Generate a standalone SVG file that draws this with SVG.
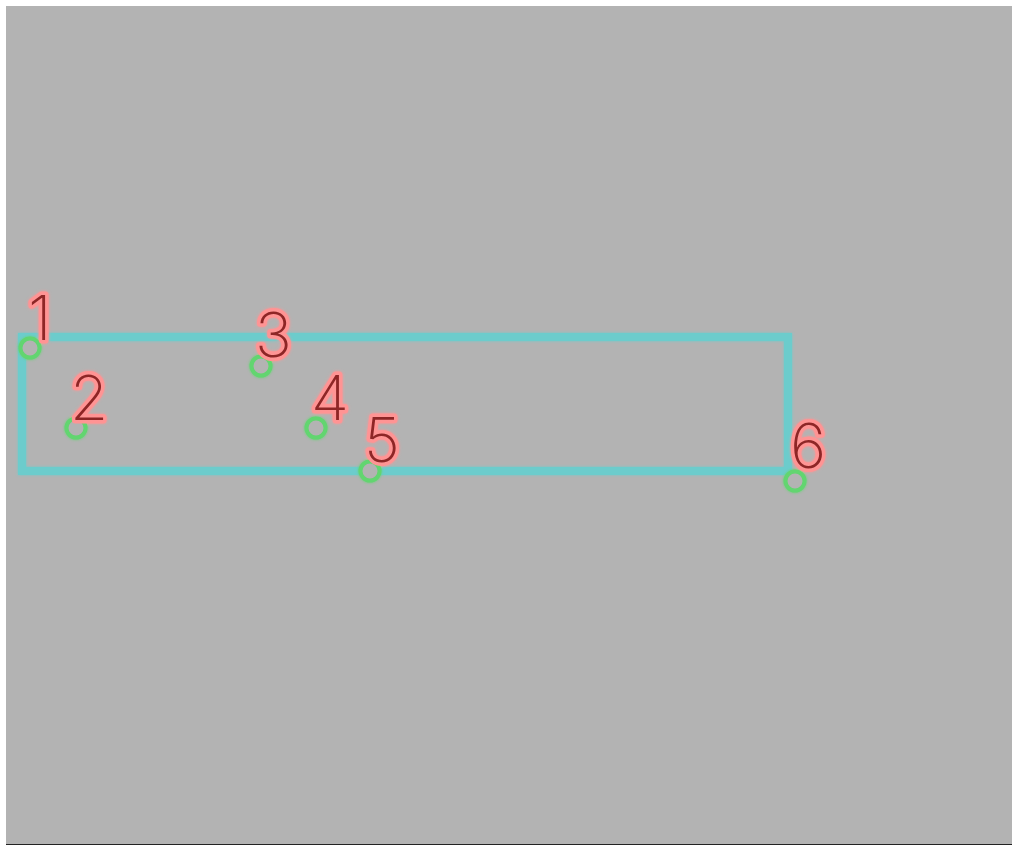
<svg xmlns="http://www.w3.org/2000/svg" width="1012" height="846" viewBox="0 0 1012 846">
<defs>
<style>
.pt{fill:#b3b3b3;stroke:#62d56f;stroke-width:4}
.lbl{font-family:Inter,"DejaVu Sans","Liberation Sans",sans-serif;font-weight:200;font-size:62px;fill:#8e2626;stroke:#ff9494;stroke-width:7;paint-order:stroke;stroke-linejoin:round}
.edge{fill:none;stroke:#6ccccc;stroke-width:8;stroke-linejoin:miter}
</style>
<filter id="glow" x="-50%" y="-50%" width="200%" height="200%">
<feGaussianBlur in="SourceGraphic" stdDeviation="1.6" result="b"/>
<feMerge><feMergeNode in="b"/><feMergeNode in="SourceGraphic"/></feMerge>
</filter>
</defs>
<rect x="0" y="0" width="1012" height="846" fill="#ffffff"/>
<rect x="6" y="6" width="1006" height="838" fill="#b3b3b3"/>
<line x1="6" y1="844.5" x2="1012" y2="844.5" stroke="#222222" stroke-width="1"/>
<g id="connectors" filter="url(#glow)">
<rect class="edge" x="22" y="337" width="766" height="134"/>
</g>
<g id="node1" filter="url(#glow)">
<circle class="pt" cx="30" cy="348" r="9.5"/>
<text class="lbl" x="28" y="340">1</text>
</g>
<g id="node2" filter="url(#glow)">
<circle class="pt" cx="76" cy="428" r="9.5"/>
<text class="lbl" x="70" y="420">2</text>
</g>
<g id="node3" filter="url(#glow)">
<circle class="pt" cx="261" cy="366" r="9.5"/>
<text class="lbl" x="255" y="357">3</text>
</g>
<g id="node4" filter="url(#glow)">
<circle class="pt" cx="316" cy="428" r="9.5"/>
<text class="lbl" x="311" y="420">4</text>
</g>
<g id="node5" filter="url(#glow)">
<circle class="pt" cx="370" cy="471" r="9.5"/>
<text class="lbl" x="364" y="462">5</text>
</g>
<g id="node6" filter="url(#glow)">
<circle class="pt" cx="795" cy="481" r="9.5"/>
<text class="lbl" x="790" y="468">6</text>
</g>
</svg>
